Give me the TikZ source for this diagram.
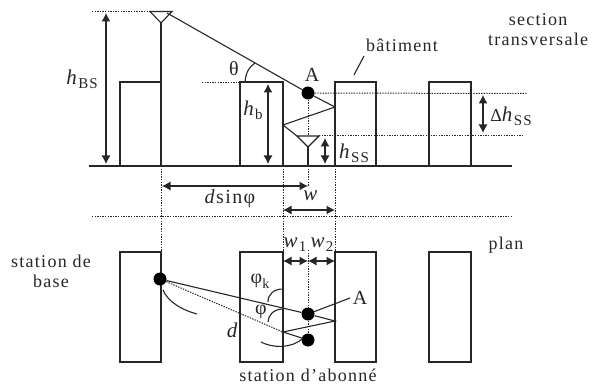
\documentclass[tikz,border=0pt]{standalone}
\usepackage{fontspec}
\setmainfont[LetterSpace=7]{Liberation Serif}
\usetikzlibrary{arrows.meta}
\newcommand{\hsub}[2]{\textit{\fontsize{21}{21}\selectfont #1}\raisebox{-.5ex}{\fontsize{15}{15}\selectfont #2}}
\newcommand{\phisub}[2]{#1\raisebox{-.5ex}{\fontsize{14}{14}\selectfont #2}}
\tikzset{
  wall/.style={draw=black!85,line width=1.1pt},
  ray/.style={black!85,line width=1.1pt},
  dotline/.style={black!85,line width=1pt,dash pattern=on 1.4pt off 1.2pt},
  dim/.style={black!85,line width=1.1pt,{Latex[length=8.5pt,width=9pt]}-{Latex[length=8.5pt,width=9pt]}},
  dot/.style={circle,fill=black,inner sep=0pt,minimum size=13pt},
  lab/.style={inner sep=0pt,text=black!85,font=\fontsize{18}{20}\selectfont,align=center},
  biglab/.style={font=\fontsize{20}{20}\selectfont}
}
\begin{document}
\begin{tikzpicture}[x=1pt,y=-1pt]
  \useasboundingbox (0,0) rectangle (592,385);
  % section
  \coordinate (g1) at (89,166);
  \coordinate (g2) at (512,166);
  \draw[ray] (g1) to (g2);
  \node[wall,minimum width=41pt,minimum height=84pt,inner sep=0pt] (b1) at (140.5,124) {};
  \node[wall,minimum width=43pt,minimum height=84pt,inner sep=0pt] (b2) at (261.5,124) {};
  \node[wall,minimum width=41pt,minimum height=84pt,inner sep=0pt] (b3) at (355.5,124) {};
  \node[wall,minimum width=42pt,minimum height=84pt,inner sep=0pt] (b4) at (450,124) {};
  % antennas
  \coordinate (t1) at (150,11.5);
  \coordinate (t2) at (172,11.5);
  \coordinate (t3) at (161,23);
  \coordinate (t4) at (161,166);
  \draw[ray] (t1) to (t2) to (t3) to cycle;
  \draw[ray] (t3) to (t4);
  \coordinate (s1) at (297,136);
  \coordinate (s2) at (319,136);
  \coordinate (s3) at (308,147);
  \coordinate (s4) at (308,166);
  \draw[ray] (s1) to (s2) to (s3) to cycle;
  \draw[ray] (s3) to (s4);
  % rays
  \node[dot] (A) at (308,93) {};
  \coordinate (r1) at (335,107);
  \coordinate (r2) at (283,125);
  \coordinate (r3) at (167,13);
  \draw[ray] (r3) to (A) to (r1) to (r2) to (s1);
  \draw[ray] (245,82) .. controls (246,72) and (249,67) .. (255,63);
  % dotted lines
  \coordinate (d1) at (92,11.5);
  \coordinate (d2) at (202,83);
  \coordinate (d3) at (240,83);
  \coordinate (d4) at (527,93.5);
  \coordinate (d5) at (524,136);
  \coordinate (d6) at (92,216);
  \coordinate (d7) at (513,216);
  \draw[dotline] (d1) to (t1);
  \draw[dotline] (d2) to (d3);
  \draw[dotline] (A) to (d4);
  \draw[dotline] (s2) to (d5);
  \draw[dotline] (d6) to (d7);
  \draw[dotline] (A) to (s1 -| A);
  \draw[dotline] (161,166) to (161,252);
  \draw[dotline] (283,166) to (283,252);
  \draw[dotline] (335,166) to (335,252);
  \draw[dotline] (308,166) to (308,186);
  % dimensions
  \draw[dim] (106,13) to (106,164);
  \draw[dim] (268,84) to (268,164);
  \draw[dim] (325,138) to (325,164);
  \draw[dim] (483,95) to (483,133);
  \draw[dim] (162,186) to (308,186);
  \draw[dim] (283,210) to (335,210);
  % plan
  \node[wall,minimum width=41pt,minimum height=110pt,inner sep=0pt] (p1) at (140.5,307) {};
  \node[wall,minimum width=43pt,minimum height=110pt,inner sep=0pt] (p2) at (261.5,307) {};
  \node[wall,minimum width=41pt,minimum height=110pt,inner sep=0pt] (p3) at (355.5,307) {};
  \node[wall,minimum width=42pt,minimum height=110pt,inner sep=0pt] (p4) at (450,307) {};
  \node[dot] (B) at (160,279) {};
  \node[dot] (C) at (308,314) {};
  \node[dot] (D) at (308,340) {};
  \coordinate (q1) at (335,321);
  \coordinate (q2) at (283,332);
  \coordinate (q3) at (350,298);
  \draw[ray] (B) to (C) to (q1) to (q2) to (D);
  \draw[ray] (C) to (q3);
  \draw[dotline] (B) to (q2);
  \draw[dotline] (308,250) to (C);
  \draw[dotline] (C) to (D);
  \draw[dim] (283,261) to (308,261);
  \draw[dim] (308,261) to (335,261);
  \draw[ray] (163,290) .. controls (168,302) and (182,310) .. (197,314);
  \draw[ray] (268,302) .. controls (268,294) and (274,289) .. (283,289);
  \draw[ray] (268,322) .. controls (268,315) and (274,309) .. (283,309);
  \draw[ray] (261,342) .. controls (272,348) and (292,349) .. (303,338);
  % building leader
  \coordinate (l1) at (364,56);
  \coordinate (l2) at (354,75);
  \draw[ray] (l1) to (l2);
  % labels
  \begin{scope}[every node/.style={lab}]
    \node (n1) at (82,79) {\hsub{h}{BS}};
    \node (n2) at (253,110) {\hsub{h}{b}};
    \node (n3) at (354,153) {\hsub{h}{SS}};
    \node (n4) at (511,116) {Δ\hsub{h}{SS}};
    \node[biglab] (n5) at (234,69) {θ};
    \node[biglab] (n6) at (312,75) {A};
    \node (n7) at (402,45) {bâtiment};
    \node[anchor=west] (n8) at (488,30) {section\\transversale};
    \node[biglab] (n9) at (230,199) {\textit{d}sinφ};
    \node (n10) at (311,198) {\hsub{w}{}};
    \node (n11) at (295,245) {\hsub{w}{1}};
    \node (n12) at (322,245) {\hsub{w}{2}};
    \node (n13) at (506,245) {plan};
    \node (n14) at (51,271) {station de\\base};
    \node[biglab] (n15) at (260,281) {\phisub{φ}{k}};
    \node[biglab] (n16) at (261,312) {φ};
    \node (n17) at (233,332) {\hsub{d}{}};
    \node[biglab] (n18) at (360,298) {A};
    \node (n19) at (308,375) {station d'abonné};
  \end{scope}
\end{tikzpicture}
\end{document}
